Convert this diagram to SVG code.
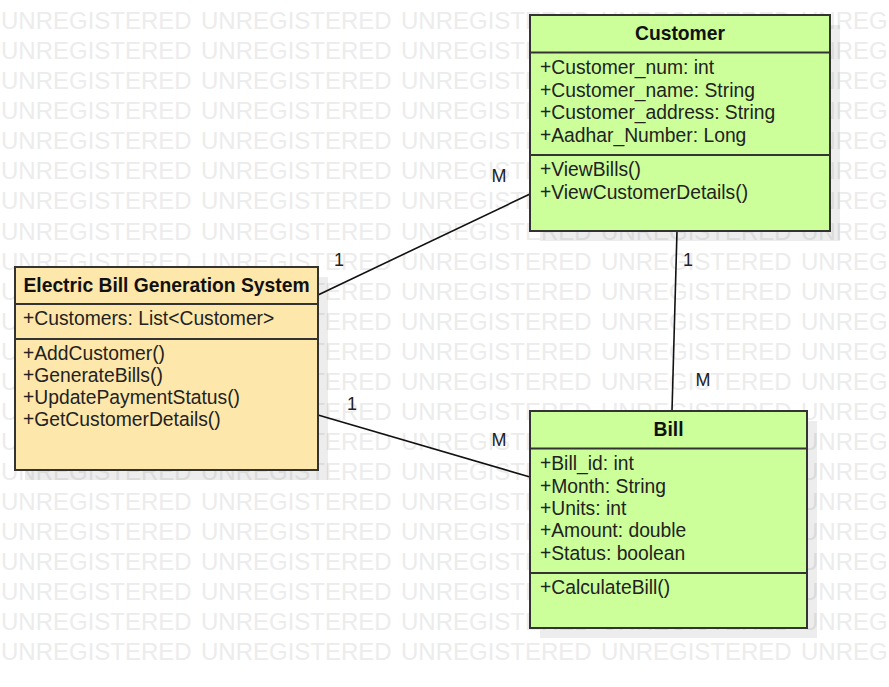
<svg xmlns="http://www.w3.org/2000/svg" xmlns:xlink="http://www.w3.org/1999/xlink" width="889" height="687" viewBox="0 0 889 687">
<style>
.wm{font-family:"Liberation Sans",Arial,sans-serif;font-size:24px;fill:#ececec}
.box{stroke:#333;stroke-width:2}
.green{fill:#ccff99}
.yellow{fill:#fee7aa}
.shadow{fill:#000;opacity:0.07}
.div{stroke:#333;stroke-width:2}
.title{font-family:"Liberation Sans",Arial,sans-serif;font-size:19.3px;font-weight:bold;fill:#111;text-anchor:middle}
.txt{font-family:"Liberation Sans",Arial,sans-serif;font-size:19.3px;fill:#222}
.lbl{font-family:"Liberation Sans",Arial,sans-serif;font-size:18px;fill:#222;text-anchor:middle}
.conn{stroke:#111;stroke-width:1.6;fill:none}
</style>
<defs>
<g id="wmrow">
<text class="wm" x="1">UNREGISTERED</text>
<text class="wm" x="201">UNREGISTERED</text>
<text class="wm" x="401">UNREGISTERED</text>
<text class="wm" x="601">UNREGISTERED</text>
<text class="wm" x="801">UNREGISTERED</text>
</g>
</defs>
<rect width="889" height="687" fill="#fff"/>
<g id="watermark">
<use xlink:href="#wmrow" y="29"/>
<use xlink:href="#wmrow" y="59"/>
<use xlink:href="#wmrow" y="89"/>
<use xlink:href="#wmrow" y="119"/>
<use xlink:href="#wmrow" y="149"/>
<use xlink:href="#wmrow" y="179"/>
<use xlink:href="#wmrow" y="209"/>
<use xlink:href="#wmrow" y="240"/>
<use xlink:href="#wmrow" y="270"/>
<use xlink:href="#wmrow" y="300"/>
<use xlink:href="#wmrow" y="330"/>
<use xlink:href="#wmrow" y="360"/>
<use xlink:href="#wmrow" y="390"/>
<use xlink:href="#wmrow" y="420"/>
<use xlink:href="#wmrow" y="450"/>
<use xlink:href="#wmrow" y="480"/>
<use xlink:href="#wmrow" y="510"/>
<use xlink:href="#wmrow" y="540"/>
<use xlink:href="#wmrow" y="570"/>
<use xlink:href="#wmrow" y="600"/>
<use xlink:href="#wmrow" y="630"/>
<use xlink:href="#wmrow" y="660"/>
</g>
<g id="connectors">
<line class="conn" x1="318" y1="295" x2="530" y2="194"/>
<line class="conn" x1="318" y1="415" x2="530" y2="477"/>
<line class="conn" x1="677" y1="231" x2="672" y2="411"/>
<text class="lbl" x="339" y="266">1</text>
<text class="lbl" x="499" y="182">M</text>
<text class="lbl" x="352" y="410">1</text>
<text class="lbl" x="499" y="446">M</text>
<text class="lbl" x="688" y="266">1</text>
<text class="lbl" x="703" y="386">M</text>
</g>
<g id="customer">
<rect class="shadow" x="540" y="25" width="300" height="216"/>
<rect class="box green" x="530" y="15" width="300" height="216"/>
<line class="div" x1="530" y1="52.5" x2="830" y2="52.5"/>
<line class="div" x1="530" y1="155" x2="830" y2="155"/>
<text class="title" x="680" y="40">Customer</text>
<text class="txt" x="540" y="74">+Customer_num: int</text>
<text class="txt" x="540" y="96.5">+Customer_name: String</text>
<text class="txt" x="540" y="119">+Customer_address: String</text>
<text class="txt" x="540" y="141.5">+Aadhar_Number: Long</text>
<text class="txt" x="540" y="176">+ViewBills()</text>
<text class="txt" x="540" y="198.5">+ViewCustomerDetails()</text>
</g>
<g id="system">
<rect class="shadow" x="25" y="277" width="303" height="203"/>
<rect class="box yellow" x="15" y="267" width="303" height="203"/>
<line class="div" x1="15" y1="304" x2="318" y2="304"/>
<line class="div" x1="15" y1="339" x2="318" y2="339"/>
<text class="title" x="166.5" y="291.5">Electric Bill Generation System</text>
<text class="txt" x="23" y="325">+Customers: List&lt;Customer&gt;</text>
<text class="txt" x="23" y="360">+AddCustomer()</text>
<text class="txt" x="23" y="382">+GenerateBills()</text>
<text class="txt" x="23" y="404">+UpdatePaymentStatus()</text>
<text class="txt" x="23" y="426">+GetCustomerDetails()</text>
</g>
<g id="bill">
<rect class="shadow" x="540" y="421" width="277" height="217"/>
<rect class="box green" x="530" y="411" width="277" height="217"/>
<line class="div" x1="530" y1="448.5" x2="807" y2="448.5"/>
<line class="div" x1="530" y1="573" x2="807" y2="573"/>
<text class="title" x="668.5" y="436">Bill</text>
<text class="txt" x="540" y="469.5">+Bill_id: int</text>
<text class="txt" x="540" y="492.5">+Month: String</text>
<text class="txt" x="540" y="514.5">+Units: int</text>
<text class="txt" x="540" y="537">+Amount: double</text>
<text class="txt" x="540" y="559.5">+Status: boolean</text>
<text class="txt" x="540" y="594">+CalculateBill()</text>
</g>
</svg>
